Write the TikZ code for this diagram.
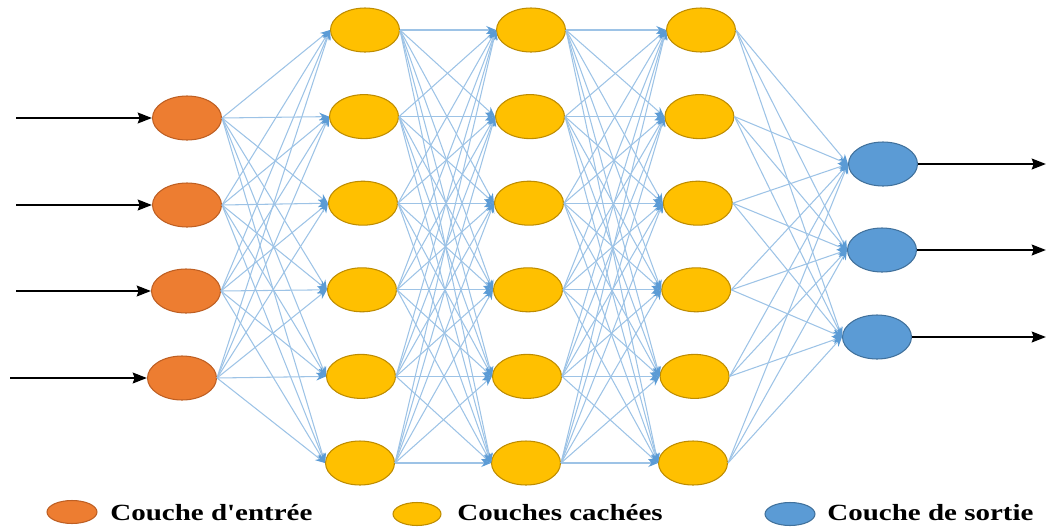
\documentclass[tikz,border=0pt]{standalone}
\usepackage{fontspec}
\newfontfamily\legendfont[FakeStretch=1.25]{Liberation Serif}
\usetikzlibrary{
		arrows.meta,
		shapes.geometric,
		positioning
	}
\definecolor{inorange}{RGB}{237,125,49}
\definecolor{inorangeline}{RGB}{190,95,35}
\definecolor{hidyellow}{RGB}{255,192,0}
\definecolor{hidyellowline}{RGB}{190,140,0}
\definecolor{outblue}{RGB}{91,155,213}
\definecolor{outblueline}{RGB}{65,113,156}
\definecolor{linkblue}{RGB}{91,155,213}
\tikzset{
		>=stealth,
		neuron/.style={ellipse, inner sep=0pt, line width=0.6pt,
			minimum width=1.38cm, minimum height=0.88cm},
		inneuron/.style={neuron, fill=inorange, draw=inorangeline},
		hidneuron/.style={neuron, fill=hidyellow, draw=hidyellowline},
		outneuron/.style={neuron, fill=outblue, draw=outblueline},
		legendsize/.style={minimum width=1cm, minimum height=0.46cm},
		legendtext/.style={inner sep=0pt, font=\legendfont\fontsize{13.2}{15}\selectfont\bfseries},
		link/.style={draw=linkblue!60, line width=0.6pt,
			-{Stealth[length=5.5pt, width=4.5pt, color=linkblue]}},
		signal/.style={black, line width=1.6pt,
			-{Stealth[length=8pt, width=6pt, inset=1pt]}}
	}

\begin{document}
\begin{tikzpicture}[x=0.02cm, y=-0.02cm]
          \useasboundingbox (0,0) rectangle (1048,531);

          % input layer
          \foreach \x/\y [count=\i] in {187/118, 187/205, 186/291, 182/378}{
              \node[inneuron] (in-\i) at (\x,\y) {};
          }
          \coordinate (src-1) at (16,118);
          \coordinate (src-2) at (16,205);
          \coordinate (src-3) at (16,291);
          \coordinate (src-4) at (10,378);

          % hidden layers
          \foreach \i in {1,...,6}{
              \pgfmathsetmacro{\ypos}{30+86.6*(\i-1)}
              \node[hidneuron] (ha-\i) at ({366-\i},\ypos) {};
              \node[hidneuron] (hb-\i) at ({532-\i},\ypos) {};
              \node[hidneuron] (hc-\i) at ({702.6-1.6*\i},\ypos) {};
          }

          % output layer
          \foreach \x/\y [count=\i] in {883/164, 882/250, 877/337}{
              \node[outneuron] (out-\i) at (\x,\y) {};
              \coordinate (dst-\i) at (1046,\y);
          }

          % weights
          \foreach \i in {1,...,4}
              \foreach \j in {1,...,6}
                  \draw[link] (in-\i.east) -- (ha-\j.west);
          \foreach \i in {1,...,6}
              \foreach \j in {1,...,6}{
                  \draw[link] (ha-\i.east) -- (hb-\j.west);
                  \draw[link] (hb-\i.east) -- (hc-\j.west);
              }
          \foreach \i in {1,...,6}
              \foreach \j in {1,...,3}
                  \draw[link] (hc-\i.east) -- (out-\j.west);

          % inputs and outputs
          \foreach \i in {1,...,4}
              \draw[signal] (src-\i) -- (in-\i.west);
          \foreach \i in {1,...,3}
              \draw[signal] (out-\i.east) -- (dst-\i);

          % legend
          \node[inneuron, legendsize] (leg-in) at (72,512) {};
          \node[hidneuron, legendsize, minimum width=0.96cm] (leg-hid) at (417,514) {};
          \node[outneuron, legendsize] (leg-out) at (790,514) {};
          \node[legendtext, anchor=base west] at (110,520) {Couche d'entrée};
          \node[legendtext, anchor=base west] at (457,520) {Couches cachées};
          \node[legendtext, anchor=base west] at (827,520) {Couche de sortie};

          \end{tikzpicture}
\end{document}
